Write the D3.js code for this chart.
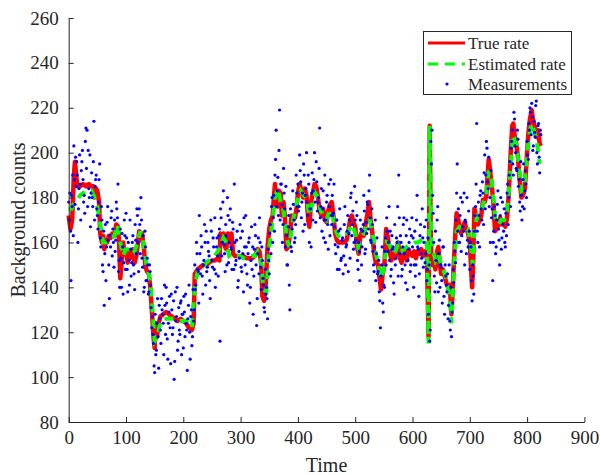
<!DOCTYPE html>
<html>
<head>
<meta charset="utf-8">
<script src="https://cdn.jsdelivr.net/npm/d3@7"></script>
<style>
  html, body { margin: 0; padding: 0; background: #fff; }
  svg { display: block; }
  text { font-family: "Liberation Serif", "Times New Roman", serif; fill: #262626; }
</style>
</head>
<body>
<svg id="chart" width="600" height="475"></svg>
<script>
// ---------- data ----------
const xTicks = [0, 100, 200, 300, 400, 500, 600, 700, 800, 900];
const yTicks = [80, 100, 120, 140, 160, 180, 200, 220, 240, 260];

const trueTime = [
0,3,6,9,11,13,15,20,25,30,
35,40,43,45,48,50,53,55,58,60,
62,64,67,70,73,76,80,83,86,88,
90,92,95,98,100,103,106,109,112,115,
118,120,123,126,128,131,134,137,140,143,
145,148,150,152,154,157,160,165,170,175,
180,185,190,195,200,205,210,215,218,220,
225,230,235,240,245,250,255,260,263,265,
268,270,273,275,278,281,284,287,290,295,
300,305,310,315,320,325,330,333,336,338,
341,344,347,350,353,356,358,360,362,365,
367,370,372,375,377,380,383,386,389,392,
395,398,400,403,406,409,412,415,418,420,
423,426,429,432,435,438,441,444,447,450,
453,456,459,462,465,468,471,475,480,485,
488,491,494,497,500,503,506,509,512,515,
518,521,524,527,530,533,536,540,543,545,
548,551,554,557,560,563,566,569,572,575,
578,581,584,587,590,593,596,600,603,606,
609,612,615,618,621,625,628,630,632,634,
637,640,643,645,648,650,653,656,659,662,
665,668,670,672,675,677,680,682,685,688,
691,694,697,700,702,704,706,708,711,714,
717,720,723,726,729,731,733,735,738,741,
744,747,750,753,756,759,762,765,768,771,
774,776,778,781,784,787,790,793,796,799,
802,805,808,810,813,816,819,822,824];

const trueRate = [
172,166,170,190,196,190,185,185,186,185,
186,185,185,180,184,183,178,164,160,163,
157,161,160,163,162,164,163,168,167,160,
144,150,160,155,156,151,156,153,157,151,
154,158,165,161,164,158,149,147,146,138,
130,118,113,124,118,124,127,128,129,128,
127,126,125,126,125,124,122,121,124,146,
148,149,150,150,151,152,152,153,152,164,
160,164,158,157,164,160,164,155,154,154,
154,154,153,153,153,154,157,156,150,136,
134,142,158,166,170,172,180,186,180,176,
183,182,172,178,172,157,158,163,172,170,
171,176,182,186,183,180,184,181,170,167,
178,182,186,185,180,174,172,175,170,169,
174,177,178,172,164,161,160,160,160,161,
165,170,172,169,167,158,155,163,165,163,
168,172,178,170,164,155,151,150,143,139,
146,150,166,162,157,152,155,153,157,160,
153,151,157,154,152,157,155,154,156,153,
156,155,157,154,156,155,118,212,160,150,
152,148,156,158,150,146,148,145,142,140,
141,128,138,150,165,173,170,167,164,167,
169,166,164,160,150,140,152,175,172,168,
170,172,179,178,181,190,197,193,186,178,
165,166,168,171,168,169,167,171,182,198,
212,213,208,204,198,188,180,181,184,196,
208,215,219,215,212,207,210,204,203];

const estTime = [0,5,10,15,20,25,30,35,40,45,50,55,60,65,70,75,80,85,90,95,100,105,110,115,120,125,130,135,140,145,150,155,160,165,170,175,180,185,190,195,200,205,210,215,220,225,230,235,240,245,250,255,260,265,270,275,280,285,290,295,300,305,310,315,320,325,330,335,340,345,350,355,360,365,370,375,380,385,390,395,400,405,410,415,420,425,430,435,440,445,450,455,460,465,470,475,480,485,490,495,500,505,510,515,520,525,530,535,540,545,550,555,560,565,570,575,580,585,590,595,600,605,610,615,620,625,628,630,633,637,640,645,650,655,660,665,668,672,677,682,687,692,697,702,705,708,713,718,723,728,733,738,745,750,755,760,765,770,775,780,785,790,795,800,805,808,812,817,822];

const estRate = [175,175,178,179,181,182,183,183,183,180,176,168,160,160,161,162,163,168,160,154,157,157,158,156,160,165,160,151,146,135,116,118,125,125,126,126,126,126,125,125,125,125,123,122,140,147,148,149,151,152,153,154,156,158,162,160,154,155,154,154,154,153,153,153,154,154,156,153,139,138,158,168,180,184,178,174,162,158,168,174,180,183,181,180,172,177,182,180,174,172,170,174,174,166,163,162,163,164,166,168,164,158,162,164,168,170,165,156,151,144,148,160,159,155,156,159,156,157,158,159,159,160,160,161,162,161,115,212,160,155,152,155,150,147,143,134,124,148,165,167,167,166,166,158,150,165,172,172,177,180,192,188,170,168,170,170,174,188,208,205,196,183,184,200,210,213,210,205,195];

// measurements at even times (t = 0, 2, 4, ...)
const measEven = [
178,182,143,176,163,188,198,196,160,184,
186,192,201,178,173,211,210,201,180,167,
191,176,214,185,190,172,178,195,158,170,
147,132,168,158,176,150,163,171,154,160,
170,161,175,186,152,166,140,158,151,163,
173,148,160,141,157,151,163,146,168,155,
172,147,168,180,153,163,140,158,143,150,
138,147,131,127,115,102,110,124,118,132,
121,135,128,110,132,140,117,124,136,106,
130,122,99,138,127,112,131,119,134,128,
113,129,137,121,126,141,108,130,118,125,
150,141,155,147,172,146,158,137,152,160,
165,149,156,143,170,152,162,148,140,158,
154,163,116,171,160,183,155,168,150,172,
160,175,157,169,148,160,152,165,143,153,
162,147,155,171,150,158,141,160,133,152,
148,128,157,163,123,155,146,160,139,152,
141,129,137,135,157,146,168,176,160,181,
190,210,183,172,219,186,177,168,182,158,
163,150,172,130,158,166,177,160,168,182,
186,176,192,171,182,195,168,184,178,190,
160,175,182,170,188,178,196,174,180,211,
176,165,183,170,160,178,168,186,163,172,
181,173,167,155,170,158,148,166,153,162,
154,176,158,165,147,170,180,163,174,160,
170,178,152,160,143,166,158,168,174,157,
164,177,183,171,160,168,150,158,143,162,
147,138,122,150,133,141,156,150,165,160,
152,145,163,158,137,150,162,176,190,155,
160,148,168,155,142,170,152,160,147,163,
158,140,165,150,181,157,146,168,153,162,
160,151,170,148,128,116,205,210,173,145,
165,142,176,155,140,149,133,158,128,145,
138,126,150,121,118,133,142,156,170,195,
175,160,180,163,167,182,170,155,161,174,
148,158,134,145,165,176,213,160,172,181,
175,187,168,199,190,202,184,176,160,171,
143,165,172,158,177,166,150,180,162,168,
175,158,163,186,180,196,202,210,190,215,
200,192,206,188,174,181,176,195,183,186,
205,197,210,218,222,201,214,207,223,195,
213,191,208];

// measurements at odd times (t = 1, 3, 5, ...)
const measOdd = [
170,165,181,190,203,177,185,190,175,199,
170,196,188,181,205,193,176,184,199,182,
180,196,170,188,175,166,188,162,176,150,
165,155,143,169,161,135,158,174,166,149,
156,178,171,147,140,153,164,137,170,148,
162,138,152,170,145,160,150,139,161,175,
160,175,155,170,149,138,165,143,153,137,
150,141,122,119,105,128,112,135,104,126,
115,130,124,141,119,133,108,129,122,137,
119,134,107,125,140,116,121,133,110,128,
136,118,124,103,132,120,127,114,139,130,
139,160,148,133,155,163,145,150,168,141,
147,160,154,135,165,149,158,171,146,162,
145,166,175,154,178,159,147,163,180,151,
170,158,148,166,186,150,161,140,156,168,
149,165,138,158,172,146,155,162,140,167,
158,145,168,150,135,162,171,149,158,144,
131,148,140,126,152,164,155,180,171,165,
197,176,189,201,170,186,160,193,175,185,
150,167,141,175,156,183,170,162,190,176,
174,199,187,178,165,190,181,200,172,186,
175,158,191,183,200,169,187,178,193,171,
184,175,162,190,170,181,157,176,188,168,
172,186,159,170,148,165,175,152,161,146,
168,150,159,172,164,153,182,168,157,185,
161,172,148,156,170,150,165,181,155,169,
178,166,190,161,175,156,147,170,155,146,
152,134,145,158,129,140,162,171,156,176,
165,148,157,142,168,153,160,145,171,163,
145,158,171,150,163,139,157,166,150,171,
162,150,145,170,158,136,163,155,175,149,
167,155,143,162,150,121,195,181,160,138,
152,170,138,161,150,143,158,136,150,141,
146,132,125,140,129,148,160,151,182,165,
160,172,156,178,165,150,169,180,158,165,
160,143,150,137,172,186,165,178,158,183,
170,182,191,175,205,187,198,180,192,175,
160,176,155,170,183,161,172,157,178,165,
160,173,182,168,190,176,205,195,218,203,
193,210,185,178,196,170,188,175,192,180,
199,213,220,208,216,203,209,221,200,212,
198,210];

const legendItems = ["True rate", "Estimated rate", "Measurements"];

// ---------- layout ----------
const svg = d3.select("#chart");
const x0 = 68.7, x1 = 584.4, yTop = 18, yBot = 422;
const x = d3.scaleLinear().domain([0, 900]).range([x0, x1]);
const y = d3.scaleLinear().domain([80, 260]).range([yBot, yTop]);
const axisColor = "#262626";

// ---------- series ----------
const trueData = trueTime.map((t, i) => [t, trueRate[i]]);
const estData = estTime.map((t, i) => [t, estRate[i]]);
const measData = measEven.map((v, i) => [i * 2, v])
  .concat(measOdd.map((v, i) => [i * 2 + 1, v]));

const line = d3.line().x(d => x(d[0])).y(d => y(d[1]));

svg.append("path").datum(trueData)
  .attr("d", line).attr("fill", "none")
  .attr("stroke", "#ff0000").attr("stroke-width", 4.5)
  .attr("stroke-linejoin", "round");

svg.append("path").datum(estData)
  .attr("d", line).attr("fill", "none")
  .attr("stroke", "#00ff00").attr("stroke-width", 4)
  .attr("stroke-dasharray", "9,7");

svg.append("g").selectAll("circle").data(measData).join("circle")
  .attr("cx", d => x(d[0])).attr("cy", d => y(d[1]))
  .attr("r", 1.6).attr("fill", "#0000ff");

// ---------- axes ----------
const xAxis = d3.axisBottom(x).tickValues(xTicks).tickSizeInner(-5).tickSizeOuter(0).tickPadding(9);
const yAxis = d3.axisLeft(y).tickValues(yTicks).tickSizeInner(-5).tickSizeOuter(0).tickPadding(10);

const gx = svg.append("g").attr("transform", `translate(0,${yBot})`).call(xAxis);
const gy = svg.append("g").attr("transform", `translate(${x0},0)`).call(yAxis);
[gx, gy].forEach(g => {
  g.selectAll("path, line").attr("stroke", axisColor).attr("stroke-width", 1);
  g.selectAll("text").style("font-size", "19px").attr("fill", axisColor)
   .style("font-family", '"Liberation Serif", "Times New Roman", serif');
});

svg.append("text").attr("x", (x0 + x1) / 2).attr("y", 472)
  .attr("text-anchor", "middle").style("font-size", "20px").text("Time");
svg.append("text")
  .attr("transform", `translate(25,${(yTop + yBot) / 2}) rotate(-90)`)
  .attr("text-anchor", "middle").style("font-size", "20px").text("Background counts");

// ---------- legend ----------
const lg = svg.append("g");
lg.append("rect").attr("x", 423.5).attr("y", 31.5).attr("width", 148).attr("height", 63)
  .attr("fill", "#fff").attr("stroke", axisColor).attr("stroke-width", 1);
const rowY = [43, 64, 84];
lg.append("line").attr("x1", 428).attr("x2", 465).attr("y1", rowY[0]).attr("y2", rowY[0])
  .attr("stroke", "#ff0000").attr("stroke-width", 3);
lg.append("line").attr("x1", 428).attr("x2", 465).attr("y1", rowY[1]).attr("y2", rowY[1])
  .attr("stroke", "#00ff00").attr("stroke-width", 3).attr("stroke-dasharray", "10,7");
lg.append("circle").attr("cx", 447).attr("cy", rowY[2]).attr("r", 1.6).attr("fill", "#0000ff");
legendItems.forEach((name, i) => {
  lg.append("text").attr("x", 468).attr("y", rowY[i] + 5.5)
    .style("font-size", "17px").attr("fill", "#000").text(name);
});
</script>
</body>
</html>
